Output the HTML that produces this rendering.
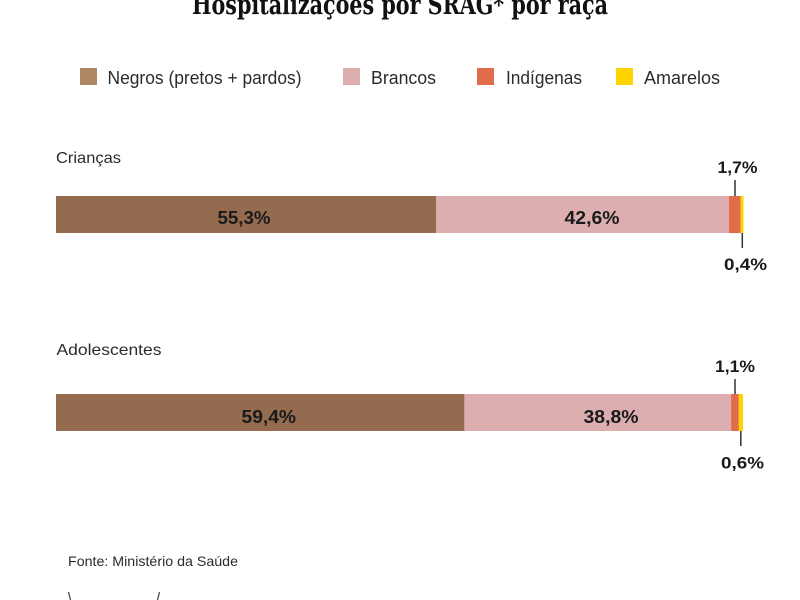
<!DOCTYPE html>
<html>
<head>
<meta charset="utf-8">
<style>
  html, body { margin: 0; padding: 0; background: #ffffff; }
  svg { display: block; }
  .lbl { font-family: "Liberation Sans", sans-serif; fill: #2b2b2b; }
  .bold { font-family: "Liberation Sans", sans-serif; font-weight: bold; fill: #1a1a1a; }
</style>
</head>
<body>
<svg width="800" height="600" viewBox="0 0 800 600" xmlns="http://www.w3.org/2000/svg">
  <rect x="0" y="0" width="800" height="600" fill="#ffffff"/>

  <!-- Title (cut at top) -->
  <text x="192" y="14" font-family="'DejaVu Serif', 'Liberation Serif', serif" font-weight="bold" font-size="27" fill="#111" textLength="416" lengthAdjust="spacingAndGlyphs">Hospitalizações por SRAG* por raça</text>

  <!-- Legend -->
  <rect x="80" y="68" width="17" height="17" fill="#ae8765"/>
  <text class="lbl" x="107.5" y="84" font-size="18" textLength="194" lengthAdjust="spacingAndGlyphs">Negros (pretos + pardos)</text>
  <rect x="343" y="68" width="17" height="17" fill="#dcaeaf"/>
  <text class="lbl" x="371" y="84" font-size="18" textLength="65" lengthAdjust="spacingAndGlyphs">Brancos</text>
  <rect x="477" y="68" width="17" height="17" fill="#e06c4a"/>
  <text class="lbl" x="506" y="84" font-size="18" textLength="76" lengthAdjust="spacingAndGlyphs">Indígenas</text>
  <rect x="616" y="68" width="17" height="17" fill="#ffd400"/>
  <text class="lbl" x="644" y="84" font-size="18" textLength="76" lengthAdjust="spacingAndGlyphs">Amarelos</text>

  <!-- Crianças -->
  <text class="lbl" x="56" y="163" font-size="16" textLength="65" lengthAdjust="spacingAndGlyphs">Crianças</text>
  <rect x="56" y="196" width="380" height="37" fill="#946b4e"/>
  <rect x="436" y="196" width="293" height="37" fill="#dcaeaf"/>
  <rect x="729" y="196" width="11.7" height="37" fill="#e06c4a"/>
  <rect x="740.7" y="196" width="2.8" height="37" fill="#ffd400"/>
  <text class="bold" x="217.5" y="224" font-size="18" textLength="53" lengthAdjust="spacingAndGlyphs">55,3%</text>
  <text class="bold" x="564.5" y="224" font-size="18" textLength="55" lengthAdjust="spacingAndGlyphs">42,6%</text>
  <line x1="735" y1="180" x2="735" y2="196" stroke="#333" stroke-width="1.5"/>
  <text class="bold" x="717.5" y="173" font-size="17" textLength="40" lengthAdjust="spacingAndGlyphs">1,7%</text>
  <line x1="742.3" y1="233" x2="742.3" y2="248" stroke="#333" stroke-width="1.5"/>
  <text class="bold" x="724" y="270" font-size="17" textLength="43" lengthAdjust="spacingAndGlyphs">0,4%</text>

  <!-- Adolescentes -->
  <text class="lbl" x="56.5" y="355" font-size="16" textLength="105" lengthAdjust="spacingAndGlyphs">Adolescentes</text>
  <rect x="56" y="394" width="408.4" height="37" fill="#946b4e"/>
  <rect x="464.4" y="394" width="266.7" height="37" fill="#dcaeaf"/>
  <rect x="731.1" y="394" width="7.7" height="37" fill="#e06c4a"/>
  <rect x="738.8" y="394" width="4.2" height="37" fill="#ffd400"/>
  <text class="bold" x="241.5" y="423" font-size="18" textLength="54.5" lengthAdjust="spacingAndGlyphs">59,4%</text>
  <text class="bold" x="583.5" y="423" font-size="18" textLength="55" lengthAdjust="spacingAndGlyphs">38,8%</text>
  <line x1="735" y1="379" x2="735" y2="394" stroke="#333" stroke-width="1.5"/>
  <text class="bold" x="715" y="372" font-size="17" textLength="40" lengthAdjust="spacingAndGlyphs">1,1%</text>
  <line x1="740.8" y1="431" x2="740.8" y2="446" stroke="#333" stroke-width="1.5"/>
  <text class="bold" x="721" y="468.5" font-size="17" textLength="43" lengthAdjust="spacingAndGlyphs">0,6%</text>

  <!-- Footer -->
  <text class="lbl" x="68" y="566" font-size="14" fill="#333" textLength="170" lengthAdjust="spacingAndGlyphs">Fonte: Ministério da Saúde</text>
  <line x1="68.5" y1="592" x2="70.5" y2="600" stroke="#444" stroke-width="1.2"/>
  <line x1="159.5" y1="592" x2="157.5" y2="600" stroke="#444" stroke-width="1.2"/>
</svg>
</body>
</html>
